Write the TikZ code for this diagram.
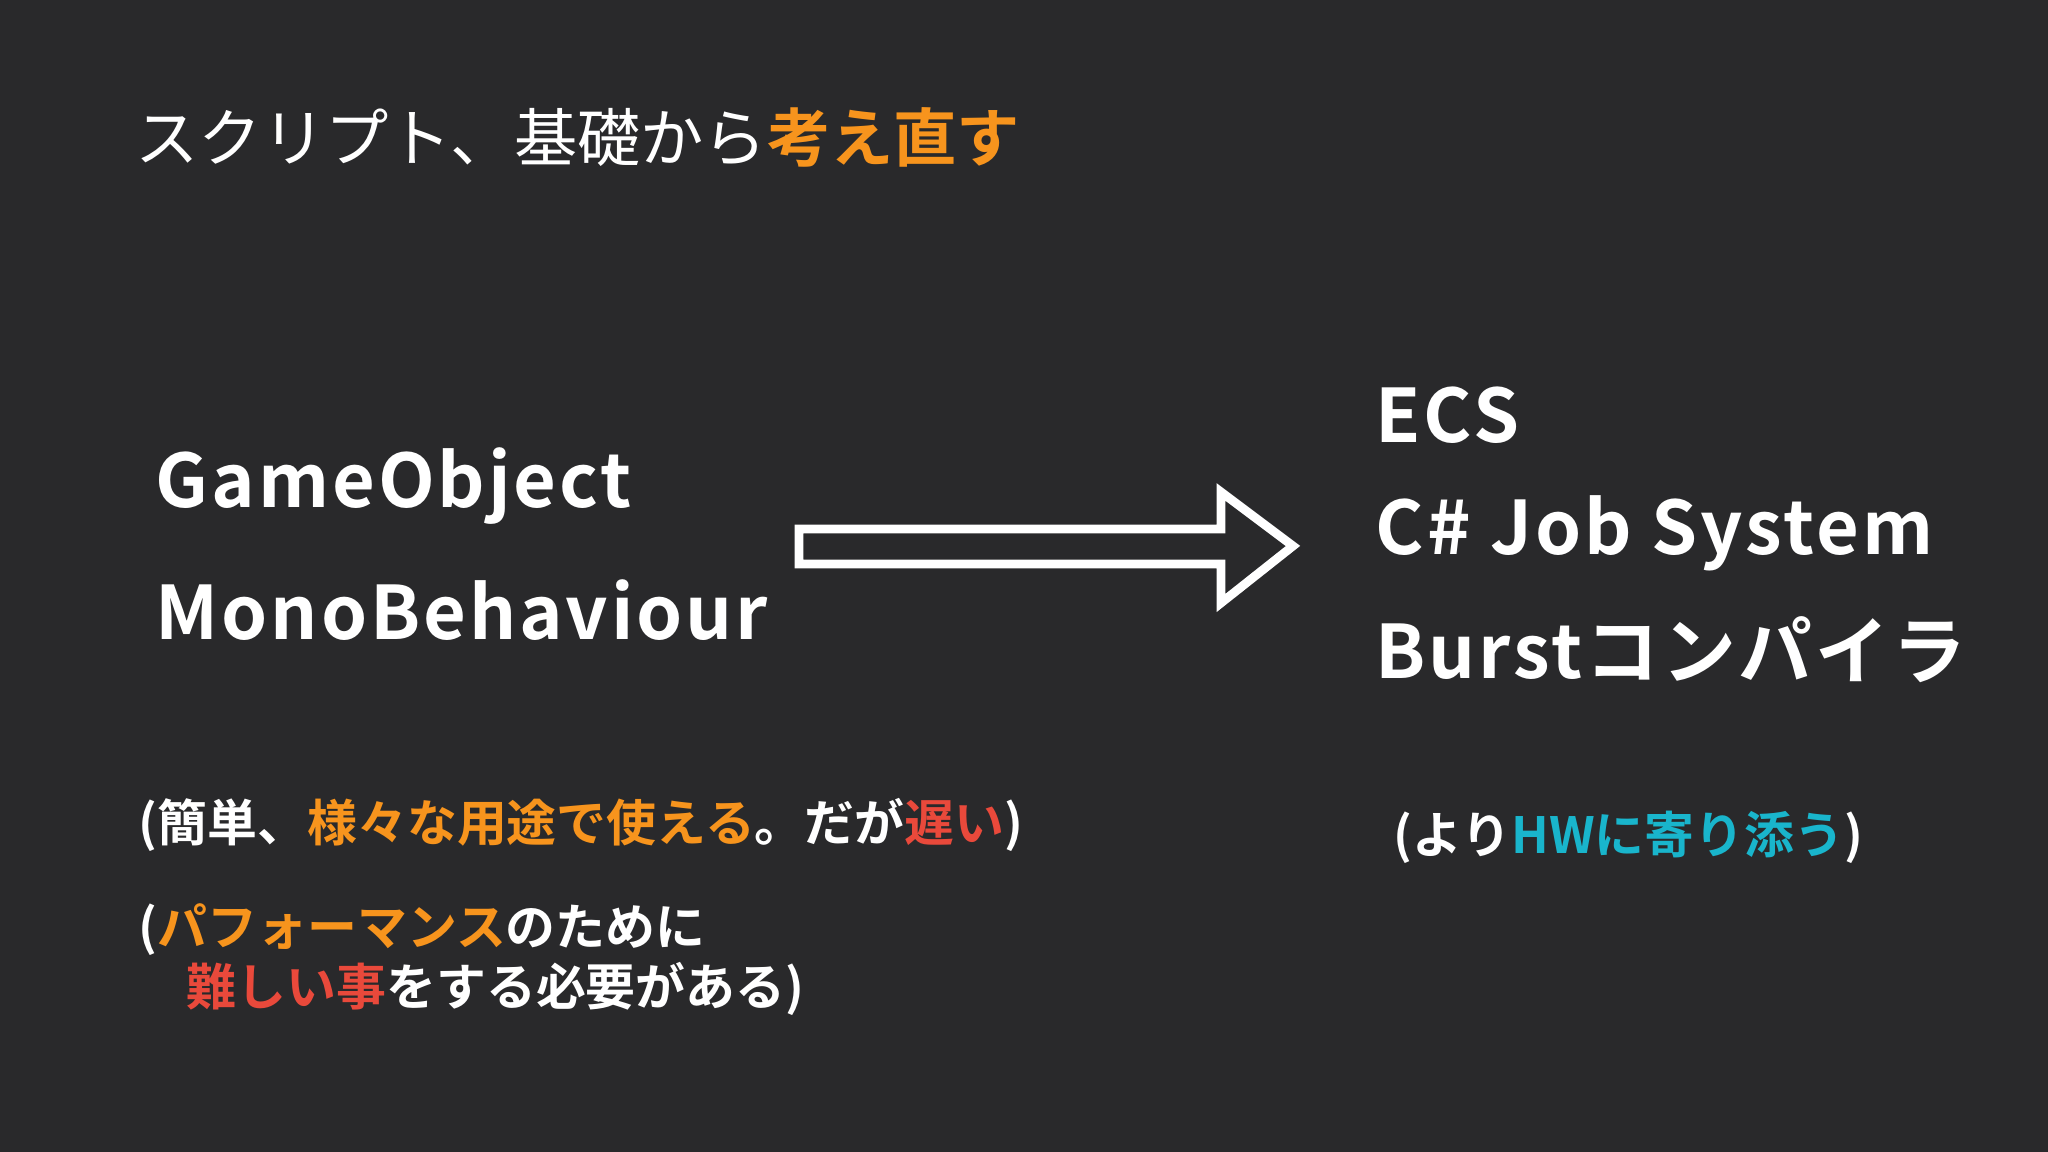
\documentclass[tikz,border=0pt]{standalone}
\usepackage{fontspec}
\usepackage{xcolor}
\setmainfont{Noto Sans CJK JP}
\newfontfamily\wideb[LetterSpace=4]{Noto Sans CJK JP Bold}
\newfontfamily\jpb{Noto Sans CJK JP Bold}
\definecolor{bgdark}{HTML}{29292B}
\definecolor{accorange}{HTML}{F7941D}
\definecolor{accred}{HTML}{E9493B}
\definecolor{acccyan}{HTML}{19B5CC}
\begin{document}
\begin{tikzpicture}[
    every node/.style={text=white, anchor=west, inner sep=0pt},
    title/.style={font=\fontsize{18}{22}\selectfont},
    big/.style={font=\wideb\fontsize{21}{25}\selectfont},
    note/.style={font=\jpb\fontsize{14.2}{17}\selectfont}
]
\fill[bgdark] (0,0) rectangle (20.48,11.52);
\useasboundingbox (0,0) rectangle (20.48,11.52);

% Title
\node[title] (title) at (1.35,10.15) {スクリプト、基礎から{\jpb\color{accorange}考え直す}};

% Old way
\node[big] (gameobj) at (1.55,6.66) {GameObject};
\node[big] (mono) at (1.55,5.42) {MonoBehaviour};

% New way
\node[big] (ecs) at (13.75,7.37) {ECS};
\node[big] (job) at (13.75,6.19) {C\# Job System};
\node[big] (burst) at (13.75,5.02) {Burstコンパイラ};

% Arrow
\draw[white, line width=2.5pt, line join=miter]
    (7.99,6.23) -- (12.21,6.23) -- (12.21,6.60) -- (12.93,6.06)
    -- (12.21,5.49) -- (12.21,5.88) -- (7.99,5.88) -- cycle;

% Notes
\node[note] (noteeasy) at (1.38,3.27) {(簡単、{\color{accorange}様々な用途で使える}。だが{\color{accred}遅い})};
\node[note] (noteperf) at (1.38,2.22) {({\color{accorange}パフォーマンス}のために};
\node[note] (notehard) at (1.86,1.63) {{\color{accred}難しい事}をする必要がある)};
\node[note] (notehw) at (13.93,3.15) {(より{\color{acccyan}HWに寄り添う})};
\end{tikzpicture}
\end{document}
